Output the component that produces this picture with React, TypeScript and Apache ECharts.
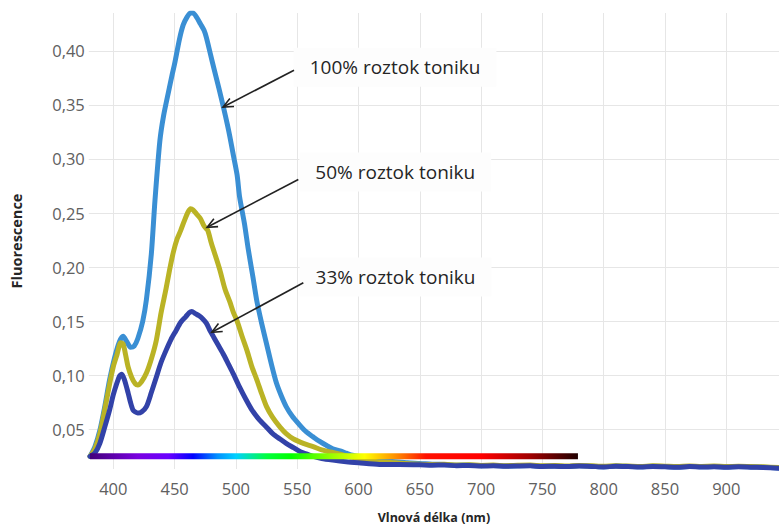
import React, { useEffect, useRef } from "react";
import * as echarts from "echarts";

// ---- data ----
const wavelength100 = [381, 385, 389, 393, 397, 401, 405, 408, 411, 414, 417, 420, 424, 427, 431, 434, 438, 441, 445, 448, 450, 454, 457, 460, 463, 465, 468, 471, 474, 476, 479, 482, 486, 490, 493, 495, 498, 501, 503, 507, 510, 514, 517, 521, 525, 529, 533, 537, 541, 546, 552, 557, 563, 568, 574, 579, 585, 590, 595, 600, 606, 612, 620, 630, 640, 650, 660, 670, 680, 690, 700, 710, 720, 730, 740, 750, 760, 770, 780, 790, 800, 810, 820, 830, 840, 850, 860, 870, 880, 890, 900, 910, 920, 930, 943];
const fluorescence100 = [0.025, 0.034, 0.049, 0.071, 0.096, 0.116, 0.131, 0.136, 0.131, 0.126, 0.127, 0.134, 0.150, 0.170, 0.212, 0.262, 0.317, 0.340, 0.362, 0.378, 0.388, 0.411, 0.424, 0.431, 0.435, 0.435, 0.431, 0.425, 0.419, 0.412, 0.398, 0.384, 0.366, 0.347, 0.332, 0.321, 0.303, 0.285, 0.265, 0.240, 0.217, 0.190, 0.169, 0.148, 0.129, 0.110, 0.093, 0.081, 0.071, 0.062, 0.054, 0.048, 0.043, 0.039, 0.035, 0.032, 0.030, 0.028, 0.026, 0.025, 0.023, 0.022, 0.021, 0.020, 0.019, 0.0185, 0.0178, 0.0174, 0.0168, 0.0170, 0.0163, 0.0166, 0.0160, 0.0163, 0.0165, 0.0158, 0.0161, 0.0157, 0.0162, 0.0159, 0.0154, 0.0160, 0.0157, 0.0153, 0.0158, 0.0155, 0.0152, 0.0157, 0.0153, 0.0156, 0.0151, 0.0155, 0.0152, 0.0149, 0.0142];

const wavelength50 = [381, 385, 389, 393, 397, 400, 403, 406, 408, 410, 412, 415, 418, 420, 423, 427, 431, 435, 439, 443, 446, 449, 452, 455, 458, 461, 463, 465, 468, 471, 474, 477, 480, 484, 487, 491, 495, 498, 501, 505, 509, 513, 517, 521, 525, 530, 536, 541, 547, 555, 563, 570, 577, 585, 595, 605, 615, 630, 645, 660, 670, 680, 690, 700, 710, 720, 730, 740, 750, 760, 770, 780, 790, 800, 810, 820, 830, 840, 850, 860, 870, 880, 890, 900, 910, 920, 930, 943];
const fluorescence50 = [0.025, 0.032, 0.046, 0.068, 0.092, 0.108, 0.119, 0.130, 0.129, 0.119, 0.108, 0.098, 0.092, 0.091, 0.094, 0.102, 0.115, 0.132, 0.158, 0.180, 0.198, 0.214, 0.226, 0.234, 0.243, 0.251, 0.254, 0.253, 0.249, 0.245, 0.238, 0.234, 0.222, 0.208, 0.197, 0.180, 0.168, 0.158, 0.150, 0.136, 0.123, 0.108, 0.096, 0.083, 0.071, 0.061, 0.052, 0.046, 0.041, 0.037, 0.034, 0.031, 0.029, 0.027, 0.024, 0.022, 0.020, 0.019, 0.018, 0.0175, 0.0176, 0.0169, 0.0172, 0.0166, 0.0169, 0.0164, 0.0167, 0.0169, 0.0162, 0.0165, 0.0161, 0.0166, 0.0163, 0.0158, 0.0164, 0.0161, 0.0157, 0.0162, 0.0159, 0.0156, 0.0161, 0.0157, 0.0160, 0.0155, 0.0159, 0.0156, 0.0153, 0.0146];

const wavelength33 = [381, 385, 389, 393, 397, 400, 403, 405, 407, 409, 412, 414, 416, 418, 420, 423, 427, 431, 435, 439, 443, 447, 451, 455, 459, 462, 464, 467, 470, 473, 476, 479, 482, 486, 490, 494, 498, 503, 508, 513, 519, 525, 530, 536, 541, 547, 553, 558, 563, 570, 579, 590, 600, 617, 633, 650, 660, 670, 680, 690, 700, 710, 720, 730, 740, 750, 760, 770, 780, 790, 800, 810, 820, 830, 840, 850, 860, 870, 880, 890, 900, 910, 920, 930, 943];
const fluorescence33 = [0.025, 0.028, 0.037, 0.052, 0.068, 0.082, 0.093, 0.099, 0.101, 0.096, 0.084, 0.075, 0.068, 0.066, 0.065, 0.066, 0.071, 0.084, 0.098, 0.112, 0.123, 0.133, 0.141, 0.149, 0.154, 0.158, 0.159, 0.157, 0.155, 0.152, 0.148, 0.141, 0.135, 0.127, 0.119, 0.110, 0.101, 0.089, 0.078, 0.068, 0.059, 0.052, 0.046, 0.041, 0.037, 0.033, 0.029, 0.027, 0.025, 0.023, 0.0215, 0.020, 0.019, 0.0175, 0.0175, 0.0172, 0.0168, 0.0170, 0.0163, 0.0166, 0.0160, 0.0163, 0.0158, 0.0161, 0.0163, 0.0156, 0.0159, 0.0155, 0.0160, 0.0157, 0.0152, 0.0158, 0.0155, 0.0151, 0.0156, 0.0153, 0.0150, 0.0155, 0.0151, 0.0154, 0.0149, 0.0153, 0.0150, 0.0147, 0.0140];

const seriesNames = ["100% roztok toniku", "50% roztok toniku", "33% roztok toniku"];
const seriesColors = ["#3a8fd4", "#bab325", "#3242a8"];

const xTicks = [400, 450, 500, 550, 600, 650, 700, 750, 800, 850, 900];
const yTicks = [0.05, 0.1, 0.15, 0.2, 0.25, 0.3, 0.35, 0.4];

// visible spectrum bar (nm) drawn at a constant level
const spectrumWavelengths = [381, 779];
const spectrumLevel = 0.0251;
const spectrumStopsNm = [381, 420, 445, 465, 485, 500, 525, 545, 580, 605, 630, 655, 700, 740, 779];
const spectrumStopColors = ["#42007a", "#7a00e0", "#6a00ff", "#0000ff", "#0090ff", "#00d0ff", "#00ff40", "#00ff00", "#a0ff00", "#ffff00", "#ff9000", "#ff1000", "#ff0000", "#a00000", "#200000"];

// annotations (data coordinates)
const annotationTextAt = [[629.8, 0.3849], [630.0, 0.2879], [630.2, 0.1908]];
const annotationArrowFrom = [[547.4, 0.3821], [550.9, 0.2811], [555.0, 0.1855]];
const annotationArrowTo = [[489.5, 0.348], [476.5, 0.2368], [480.3, 0.1397]];

const FONT = '"Open Sans", "Noto Sans", sans-serif';

export default function App() {
  const ref = useRef<HTMLDivElement>(null);

  useEffect(() => {
    if (!ref.current) return;
    const chart = echarts.init(ref.current, null, { renderer: "svg" });
    const zip = (xs: number[], ys: number[]) => xs.map((x, i) => [x, ys[i]]);

    const series: any[] = [
      [wavelength100, fluorescence100],
      [wavelength50, fluorescence50],
      [wavelength33, fluorescence33],
    ].map(([xs, ys], i) => ({
      name: seriesNames[i],
      type: "line",
      data: zip(xs, ys),
      symbol: "none",
      smooth: 0.25,
      clip: true,
      z: 2 + i,
      lineStyle: { width: 5, color: seriesColors[i], cap: "round", join: "round" },
    }));
    series.push({
      id: "spectrum",
      name: "spektrum",
      type: "line",
      data: spectrumWavelengths.map((w) => [w, spectrumLevel]),
      symbol: "none",
      z: 10,
      lineStyle: { width: 6, color: "#7a00e0", cap: "butt" },
    });

    chart.setOption({
      animation: false,
      backgroundColor: "#ffffff",
      grid: { left: 88.8, right: 0, top: 13, bottom: 59, containLabel: false, outerBoundsMode: "none" },
      xAxis: {
        type: "value",
        min: 380,
        max: 943,
        name: "Vlnová délka (nm)",
        nameLocation: "middle",
        nameGap: 42,
        nameTextStyle: { fontFamily: FONT, fontWeight: "bold", fontSize: 12.5, color: "#252525" },
        axisLine: { show: false },
        axisTick: { show: false, customValues: xTicks },
        axisLabel: { customValues: xTicks, margin: 11, color: "#606060", fontSize: 16.5, fontFamily: FONT },
        splitLine: { show: true, lineStyle: { color: "#e6e6e6", width: 1 } },
      },
      yAxis: {
        type: "value",
        min: 0.0133,
        max: 0.435,
        name: "Fluorescence",
        nameLocation: "middle",
        nameRotate: 90,
        nameGap: 65,
        nameTextStyle: { fontFamily: FONT, fontWeight: "bold", fontSize: 14.5, color: "#252525" },
        axisLine: { show: false },
        axisTick: { show: false, customValues: yTicks },
        axisLabel: {
          customValues: yTicks,
          margin: 4,
          color: "#606060",
          fontSize: 16.5,
          fontFamily: FONT,
          formatter: (v: number) => v.toFixed(2).replace(".", ","),
        },
        splitLine: { show: true, lineStyle: { color: "#e6e6e6", width: 1 } },
      },
      series,
    });

    const px = (p: number[]) => chart.convertToPixel({ gridIndex: 0 }, p) as number[];

    // spectrum gradient in global pixel coordinates along the bar
    const s0 = px([spectrumStopsNm[0], spectrumLevel]);
    const s1 = px([spectrumStopsNm[spectrumStopsNm.length - 1], spectrumLevel]);
    const span = spectrumStopsNm[spectrumStopsNm.length - 1] - spectrumStopsNm[0];
    const gradient = new echarts.graphic.LinearGradient(
      s0[0], s0[1], s1[0], s1[1],
      spectrumStopsNm.map((nm, i) => ({ offset: (nm - spectrumStopsNm[0]) / span, color: spectrumStopColors[i] })),
      true
    );

    const elements: any[] = [];
    seriesNames.forEach((label, i) => {
      const [tx, ty] = px(annotationTextAt[i]);
      const [fx, fy] = px(annotationArrowFrom[i]);
      const [ex, ey] = px(annotationArrowTo[i]);
      const ang = Math.atan2(ey - fy, ex - fx);
      const L = 11;
      const spread = 0.42;
      const p1 = [ex - L * Math.cos(ang - spread), ey - L * Math.sin(ang - spread)];
      const p2 = [ex - L * Math.cos(ang + spread), ey - L * Math.sin(ang + spread)];
      elements.push({
        type: "text",
        x: tx,
        y: ty,
        z: 100,
        style: {
          text: label,
          fill: "#252525",
          fontSize: 19,
          fontFamily: FONT,
          align: "center",
          verticalAlign: "middle",
          backgroundColor: "#fdfdfd",
          padding: [10, 16],
        },
      });
      elements.push({
        type: "line",
        z: 100,
        shape: { x1: fx, y1: fy, x2: ex, y2: ey },
        style: { stroke: "#222222", lineWidth: 1.6 },
      });
      elements.push({
        type: "polyline",
        z: 100,
        shape: { points: [p1, [ex, ey], p2] },
        style: { stroke: "#222222", lineWidth: 1.6, fill: null },
      });
    });
    chart.setOption({
      series: [{ id: "spectrum", lineStyle: { color: gradient } }],
      graphic: { elements },
    });

    return () => chart.dispose();
  }, []);

  return (
    <div
      ref={ref}
      style={{ position: "fixed", left: 0, top: 0, width: 779, height: 528, background: "#ffffff" }}
    />
  );
}
